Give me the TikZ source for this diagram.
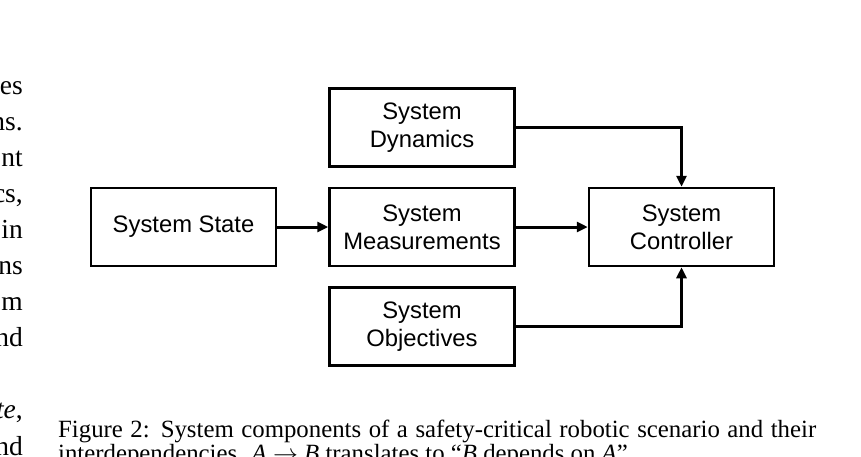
\documentclass[tikz,border=0pt]{standalone}
\usepackage{fontspec}
\setmainfont{Liberation Serif}
\newfontfamily\diagfont{Liberation Sans}
\usepackage{tikz}
\usetikzlibrary{arrows.meta,positioning}

\begin{document}
\begin{tikzpicture}[
  x=1pt,y=-1pt,
  font=\diagfont\fontsize{23.8}{28}\selectfont,
  n/.style={rectangle,draw,line width=2.5pt,align=center,minimum height=78pt,minimum width=185pt,inner sep=0pt},
  arr/.style={-{Triangle[length=11pt,width=10pt]},line width=3pt},
  frag/.style={anchor=base east,inner sep=0pt,font=\rmfamily\fontsize{27.5}{33}\selectfont},
  captext/.style={anchor=base west,inner sep=0pt,font=\rmfamily\fontsize{24.8}{27}\selectfont}
]
\useasboundingbox (0,0) rectangle (861,456);
\node[n] (state) at (183.5,227) {System State};
\node[n,right=51pt of state] (meas) {System\\Measurements};
\node[n,above=19pt of meas] (dyn) {System\\Dynamics};
\node[n,below=19pt of meas] (obj) {System\\Objectives};
\node[n,right=72pt of meas] (ctrl) {System\\Controller};

\draw[arr] (state) -- (meas);
\draw[arr] (meas) -- (ctrl);
\draw[arr] (dyn.east) -| (ctrl.north);
\draw[arr] (obj.east) -| (ctrl.south);

% neighbouring column, cut by the page edge
\foreach \k/\w in {0/es,1/ns.,2/nt,3/{cs,},4/in,5/ns,6/m,7/nd,9/{\textit{te},},10/nd}
  \node[frag] (frag\k) at (23,94+36.1*\k) {\w};

% caption
\node[captext] (cap1) at (58,437) {\makebox[758pt][s]{Figure 2: System components of a safety-critical robotic scenario and their}};
\node[captext] (cap2) at (58,461) {interdependencies. \textit{A} $\rightarrow$ \textit{B} translates to “\textit{B} depends on \textit{A}”.};
\end{tikzpicture}
\end{document}
